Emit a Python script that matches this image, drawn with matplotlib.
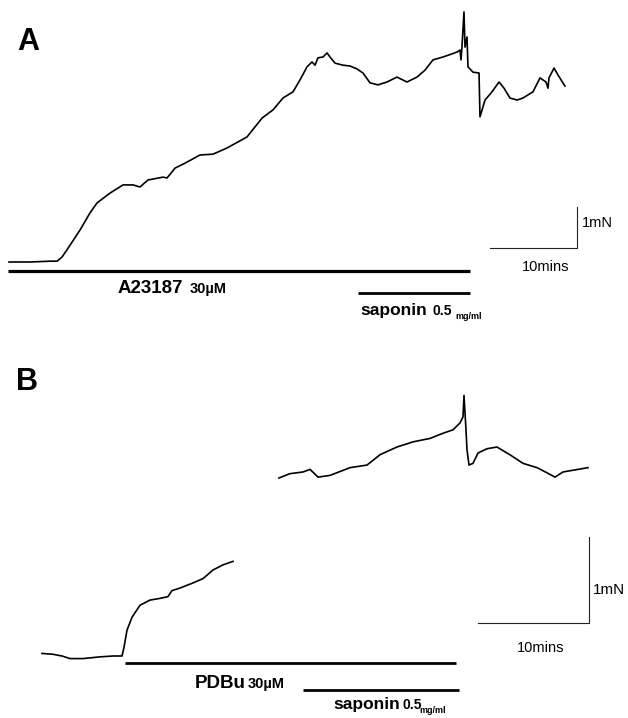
import matplotlib
matplotlib.use('Agg')
import matplotlib.pyplot as plt

plt.rcParams['font.family'] = ['Liberation Sans', 'DejaVu Sans']

# panel A: A23187 30uM, time in min, tension in mN
a_t = [0.11, 2.53, 4.83, 5.63, 6.21, 7.13, 8.28, 9.43, 10.23, 11.72, 13.22, 14.37, 15.17,
       16.09, 17.82, 18.28, 19.20, 20.34, 22.07, 23.56, 25.17, 27.47, 29.20, 30.46, 31.61,
       32.76, 33.56, 34.37, 34.94, 35.29, 35.63, 36.21, 36.67, 37.01, 37.59, 38.51, 39.31,
       40.11, 40.80, 41.61, 42.53, 43.56, 44.71, 45.86, 47.01, 47.93, 48.85, 50.00, 51.61,
       51.95, 52.07, 52.18, 52.41, 52.53, 52.76, 52.87, 53.45, 54.14, 54.25, 54.83, 55.63,
       56.44, 57.01, 57.70, 58.51, 59.20, 60.34, 61.15, 61.84, 62.07, 62.18, 62.76, 63.22,
       64.02]
a_f = [0.00, 0.00, 0.02, 0.02, 0.12, 0.41, 0.78, 1.20, 1.44, 1.68, 1.88, 1.88, 1.83,
       2.00, 2.07, 2.05, 2.29, 2.41, 2.61, 2.63, 2.78, 3.05, 3.51, 3.71, 4.00,
       4.15, 4.44, 4.76, 4.88, 4.80, 4.98, 5.00, 5.10, 5.00, 4.85, 4.80, 4.78,
       4.71, 4.61, 4.37, 4.32, 4.39, 4.51, 4.39, 4.51, 4.68, 4.93, 5.00, 5.12,
       5.17, 4.93, 5.24, 6.10, 5.24, 5.49, 4.76, 4.63, 4.61, 3.54, 3.95, 4.15,
       4.39, 4.24, 4.00, 3.95, 4.00, 4.15, 4.49, 4.39, 4.24, 4.49, 4.73, 4.56,
       4.29]
a_drug = (0.0, 53.1)      # A23187 application
a_sap = (40.2, 53.1)      # saponin application

# panel B: PDBu 30uM, two pieces of trace
b1_t = [-7.48, -6.49, -5.68, -4.95, -3.78, -2.25, -1.08, -0.27, -0.09, 0.18, 0.63, 1.35,
        2.25, 3.15, 3.87, 4.23, 4.95, 6.13, 7.03, 7.93, 8.83, 9.73]
b1_f = [0.03, 0.02, 0.00, -0.03, -0.03, -0.01, 0.00, 0.00, 0.10, 0.30, 0.45, 0.59,
        0.65, 0.67, 0.69, 0.76, 0.79, 0.85, 0.90, 1.00, 1.06, 1.10]
b2_t = [13.87, 14.86, 16.04, 16.67, 17.39, 18.47, 20.27, 21.80, 22.97, 24.50, 25.95, 27.48,
        28.65, 29.55, 30.18, 30.45, 30.54, 30.72, 30.81, 30.99, 31.35, 31.80, 32.61, 33.51,
        34.68, 35.86, 37.12, 38.02, 38.74, 39.46, 40.36, 41.71]
b2_f = [2.07, 2.12, 2.14, 2.17, 2.08, 2.10, 2.19, 2.22, 2.34, 2.43, 2.49, 2.53,
        2.59, 2.63, 2.71, 2.78, 3.03, 2.63, 2.40, 2.22, 2.24, 2.36, 2.41, 2.43,
        2.34, 2.24, 2.19, 2.13, 2.08, 2.14, 2.16, 2.19]
b_drug = (0.0, 29.8)
b_sap = (16.0, 30.1)

W, H = 628, 718
fig = plt.figure(figsize=(W / 100, H / 100), dpi=100)


def panel(x0, y0, px_min, px_mn):
    # axes over the whole figure, t=0 / F=0 lands on pixel (x0, y0)
    ax = fig.add_axes([0, 0, 1, 1])
    ax.set_xlim(-x0 / px_min, (W - x0) / px_min)
    ax.set_ylim((y0 - H) / px_mn, y0 / px_mn)
    ax.axis('off')
    ax.patch.set_alpha(0)
    return ax


# ---- A ----
ax = panel(8, 262, 8.7, 41)
ax.plot(a_t, a_f, color='black', lw=1.2)
ax.plot(a_drug, [-0.22, -0.22], color='black', lw=2.3, solid_capstyle='butt')
ax.plot(a_sap, [-0.76, -0.76], color='black', lw=2.0, solid_capstyle='butt')
ax.plot([55.4, 65.4, 65.4], [0.34, 0.34, 1.34], color='#222222', lw=0.8)
ax.text(12.64, -0.76, 'A23187', fontsize=13.5, fontweight='bold', va='baseline')
ax.text(20.92, -0.76, '30\u00b5M', fontsize=10.5, fontweight='bold', va='baseline')
ax.text(40.46, -1.29, 'saponin', fontsize=12.5, fontweight='bold', va='baseline')
ax.text(48.85, -1.29, '0.5', fontsize=10, fontweight='bold', va='baseline')
ax.text(51.38, -1.39, 'mg/ml', fontsize=6.5, fontweight='bold', va='baseline')
ax.text(65.98, 0.95, '1mN', fontsize=10.5, va='center')
ax.text(61.84, -0.12, '10mins', fontsize=10.5, va='center', ha='center')

# ---- B ----
bx = panel(125, 656, 11.1, 86)
bx.plot(b1_t, b1_f, color='black', lw=1.2)
bx.plot(b2_t, b2_f, color='black', lw=1.2)
bx.plot(b_drug, [-0.08, -0.08], color='black', lw=2.0, solid_capstyle='butt')
bx.plot(b_sap, [-0.40, -0.40], color='black', lw=2.0, solid_capstyle='butt')
bx.plot([31.8, 41.8, 41.8], [0.38, 0.38, 1.38], color='#222222', lw=0.8)
bx.text(6.31, -0.37, 'PDBu', fontsize=13.5, fontweight='bold', va='baseline')
bx.text(11.08, -0.37, '30\u00b5M', fontsize=10.5, fontweight='bold', va='baseline')
bx.text(18.74, -0.62, 'saponin', fontsize=12.5, fontweight='bold', va='baseline')
bx.text(25.0, -0.62, '0.5', fontsize=10, fontweight='bold', va='baseline')
bx.text(26.5, -0.66, 'mg/ml', fontsize=6.5, fontweight='bold', va='baseline')
bx.text(42.16, 0.77, '1mN', fontsize=11, va='center')
bx.text(37.48, 0.09, '10mins', fontsize=10.5, va='center', ha='center')

fig.text(17 / W, 1 - 50 / H, 'A', fontsize=22, fontweight='bold', va='baseline')
fig.text(16 / W, 1 - 390 / H, 'B', fontsize=22, fontweight='bold', va='baseline')

fig.savefig('out.png', dpi=100, facecolor='white')
